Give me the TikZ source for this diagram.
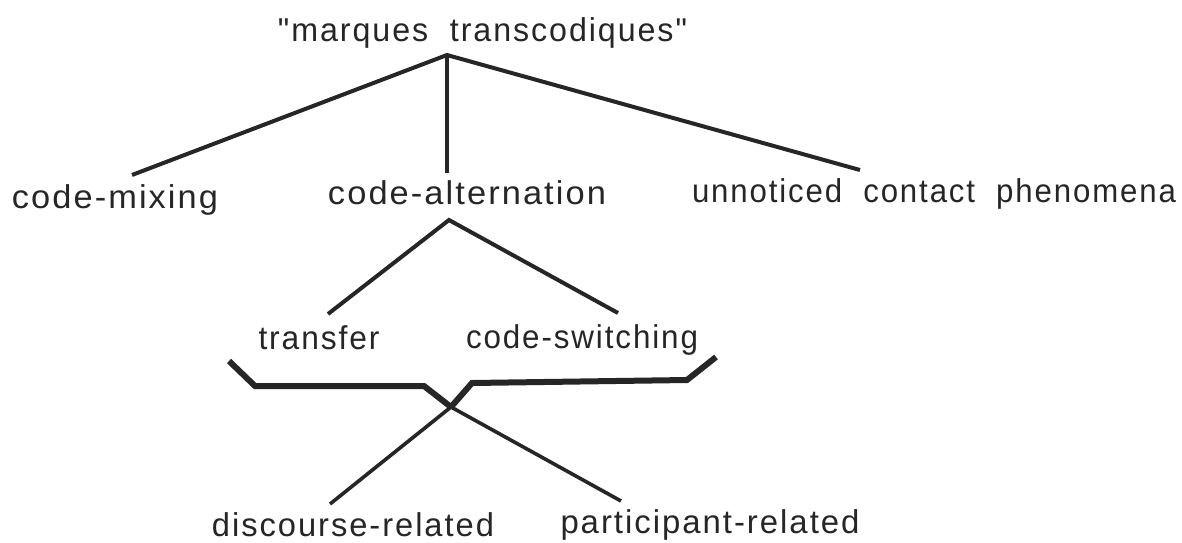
\documentclass[tikz,border=0pt]{standalone}
\usepackage{fontspec}
\usepackage{graphicx}
\newfontfamily\lbfont{Liberation Sans}[LetterSpace=6]
\newcommand\fitto[2]{\resizebox{#1pt}{\height}{#2}}
\begin{document}
\begin{tikzpicture}[x=1pt,y=-1pt,
  lbl/.style={inner sep=0pt,font=\lbfont\fontsize{33}{36}\selectfont,anchor=base,text=black!85},
  br/.style={line width=4pt,line join=miter,draw=black!85},
  thin br/.style={line width=3.6pt,draw=black!85},
  thick br/.style={line width=6pt,line join=miter,draw=black!85}]
\useasboundingbox (0,0) rectangle (1182,542);
% level 0
\node[lbl] (root) at (482.5,41) {\fitto{409}{"marques\ \ transcodiques"}};
\coordinate (a0) at (447,55);
% level 1
\node[lbl] (cm) at (115,208) {\fitto{206}{code-mixing}};
\node[lbl] (ca) at (467,204) {\fitto{278}{code-alternation}};
\node[lbl] (uc) at (934,202) {\fitto{484}{unnoticed\ \ contact\ \ phenomena}};
\coordinate (cmt) at (132,175);
\coordinate (cat) at (447,173);
\coordinate (uct) at (860,170);
\draw[br] (cmt) -- (a0) -- (uct);
\draw[br] (a0) -- (cat);
% level 2
\coordinate (a1) at (449,220);
\node[lbl] (tr) at (319,349) {\fitto{121}{transfer}};
\node[lbl] (cs) at (582,348) {\fitto{232}{code-switching}};
\coordinate (trt) at (328,314);
\coordinate (cst) at (618,313);
\draw[br] (trt) -- (a1) -- (cst);
% level 3
\coordinate (x) at (451,407);
\node[lbl] (dr) at (353,536) {\fitto{282}{discourse-related}};
\node[lbl] (pr) at (710,533) {\fitto{299}{participant-related}};
\coordinate (drt) at (330,504);
\coordinate (prt) at (621,501);
\draw[thick br] (229,361) -- (255,386) -- (424,386) -- (x);
\draw[thick br] (716,357) -- (687,380) -- (472,383) -- (x);
\draw[thin br] (x) -- (drt);
\draw[thin br] (x) -- (prt);
\end{tikzpicture}
\end{document}
